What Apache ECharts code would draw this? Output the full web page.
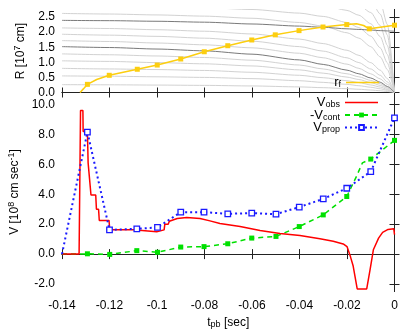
<!DOCTYPE html>
<html><head><meta charset="utf-8">
<script src="https://cdn.jsdelivr.net/npm/echarts@6/dist/echarts.min.js"></script>
<style>html,body{margin:0;padding:0;background:#fff}#c{width:415px;height:332px}</style>
</head><body><div id="c"></div>
<script>
// ---- tick labels ----
const xTicks = [-0.14, -0.12, -0.10, -0.08, -0.06, -0.04, -0.02, 0];
const rTicks = [0, 0.5, 1.0, 1.5, 2.0, 2.5];
const vTicks = [-2, 0, 2, 4, 6, 8, 10];

// ---- gray shell trajectories (top panel) ----
const shellT = [-0.14, -0.12, -0.10, -0.08, -0.06, -0.04, -0.03, -0.02, -0.015, -0.01, -0.006, -0.003, 0];
const shellsLight = [
  [0.26, 0.255, 0.246, 0.236, 0.217, 0.185, 0.16, 0.127, 0.107, 0.082, 0.058, 0.034, 0],
  [0.55, 0.54, 0.52, 0.50, 0.46, 0.39, 0.335, 0.27, 0.225, 0.174, 0.123, 0.072, 0],
  [0.80, 0.78, 0.76, 0.73, 0.67, 0.57, 0.49, 0.39, 0.33, 0.25, 0.18, 0.10, 0],
  [1.05, 1.03, 0.99, 0.95, 0.88, 0.75, 0.64, 0.51, 0.43, 0.33, 0.235, 0.14, 0],
  [1.28, 1.25, 1.21, 1.16, 1.07, 0.91, 0.78, 0.62, 0.52, 0.40, 0.29, 0.17, 0],
  [1.72, 1.69, 1.64, 1.58, 1.48, 1.30, 1.15, 0.94, 0.80, 0.62, 0.45, 0.27, 0],
  [1.93, 1.90, 1.86, 1.80, 1.70, 1.52, 1.37, 1.15, 0.99, 0.78, 0.57, 0.35, 0],
  [2.14, 2.12, 2.08, 2.03, 1.94, 1.77, 1.62, 1.40, 1.23, 0.99, 0.74, 0.46, 0],
  [2.62, 2.60, 2.57, 2.53, 2.46, 2.32, 2.20, 1.98, 1.80, 1.52, 1.18, 0.76, 0],
  [2.90, 2.88, 2.85, 2.81, 2.75, 2.63, 2.52, 2.32, 2.15, 1.87, 1.48, 0.98, 0],
  [3.30, 3.28, 3.25, 3.20, 3.13, 3.00, 2.90, 2.72, 2.56, 2.28, 1.85, 1.26, 0],
  [3.90, 3.85, 3.80, 3.70, 3.60, 3.40, 3.25, 3.05, 2.90, 2.65, 2.22, 1.56, 0],
  [4.80, 4.70, 4.60, 4.40, 4.20, 3.90, 3.70, 3.50, 3.30, 3.05, 2.60, 1.90, 0],
  [6.00, 5.80, 5.60, 5.30, 5.00, 4.60, 4.30, 4.00, 3.80, 3.50, 3.00, 2.25, 0]
];
const shellsDark = [
  [2.39, 2.38, 2.36, 2.33, 2.27, 2.20, 2.16, 2.11, 2.09, 2.07, 2.05, 2.04, 2.03],
  [1.52, 1.49, 1.44, 1.38, 1.27, 1.08, 0.93, 0.74, 0.62, 0.48, 0.34, 0.20, 0]
];

// ---- shock radius r_f (top panel) ----
const rfT = [-0.1324, -0.1310, -0.1293, -0.1254, -0.1201, -0.1083, -0.0999, -0.0900, -0.0801, -0.0702, -0.0601, -0.0502, -0.0402, -0.0301, -0.0201, -0.0160, -0.0130, -0.0106, 0];
const rfR = [0.00, 0.12, 0.27, 0.43, 0.57, 0.77, 0.91, 1.11, 1.35, 1.55, 1.74, 1.91, 2.05, 2.17, 2.25, 2.28, 2.22, 2.11, 2.23];
const rfMark = [0, 0, 1, 0, 1, 1, 1, 1, 1, 1, 1, 1, 1, 1, 1, 0, 0, 1, 1];

// ---- velocities (bottom panel) ----
const obsT = [-0.14, -0.1328, -0.1322, -0.1312, -0.1311, -0.1293, -0.1290, -0.1282, -0.1278, -0.1258, -0.1255, -0.1246, -0.1243, -0.1202, -0.1199, -0.1100, -0.1095, -0.1001, -0.0997, -0.0970, -0.0967, -0.0953, -0.0948, -0.0915, -0.0875, -0.0819, -0.0777, -0.0735, -0.0650, -0.0566, -0.0482, -0.0398, -0.0314, -0.0258, -0.0216, -0.0200, -0.0185, -0.0174, -0.0157, -0.0117, -0.0103, -0.0089, -0.0067, -0.0050, -0.0027, -0.0003, 0];
const obsV = [0, 0, 9.6, 9.6, 8.2, 8.2, 6.1, 6.1, 3.95, 3.95, 3.0, 3.0, 2.25, 2.25, 1.62, 1.62, 1.50, 1.50, 1.62, 1.62, 2.0, 2.0, 2.2, 2.38, 2.45, 2.38, 2.22, 2.05, 1.85, 1.58, 1.37, 1.24, 1.03, 0.86, 0.68, 0.5, -0.2, -0.8, -2.33, -2.33, -1.05, 0.29, 1.07, 1.45, 1.65, 1.7, 1.3];

const contT = [-0.14, -0.1328, -0.1293, -0.1199, -0.1085, -0.0998, -0.0900, -0.0802, -0.0702, -0.0601, -0.0499, -0.0401, -0.0300, -0.0201, -0.0160, -0.0135, -0.0100, 0];
const contV = [0, 0, 0.02, -0.02, 0.23, 0.12, 0.47, 0.50, 0.69, 1.07, 1.18, 1.84, 2.62, 3.85, 5.2, 6.1, 6.35, 7.6];
const contMark = [0, 0, 1, 1, 1, 1, 1, 1, 1, 1, 1, 1, 1, 1, 0, 0, 1, 1];

const propT = [-0.14, -0.1293, -0.1200, -0.1085, -0.0998, -0.0900, -0.0802, -0.0702, -0.0601, -0.0499, -0.0401, -0.0300, -0.0201, -0.0100, 0];
const propV = [0, 8.15, 1.62, 1.69, 1.78, 2.80, 2.80, 2.69, 2.74, 2.67, 3.14, 3.69, 4.40, 5.51, 9.1];
const propMark = [0, 1, 1, 1, 1, 1, 1, 1, 1, 1, 1, 1, 1, 1, 1];

// ---- build ----
const FONT = 'Liberation Sans, Arial, sans-serif';
function pts(T, Y, M) {
  return T.map((t, i) => M ? { value: [t, Y[i]], symbol: M[i] ? 'rect' : 'none' } : [t, Y[i]]);
}
const fmtX = v => Math.abs(v) < 1e-9 ? '0' : String(parseFloat(v.toFixed(2)));
const axLine = { show: true, lineStyle: { color: '#222', width: 1 } };
function xAx(grid, pos, labels) {
  return {
    type: 'value', gridIndex: grid, position: pos, min: -0.14, max: 0,
    axisLine: axLine,
    axisTick: { show: true, inside: true, length: 5, customValues: xTicks, lineStyle: { color: '#222' } },
    axisLabel: labels ? { show: true, customValues: xTicks, formatter: fmtX, fontFamily: FONT, fontSize: 12, color: '#000', margin: 8 } : { show: false },
    splitLine: { show: false },
    name: labels ? '{a|t}{b|pb}{a| [sec]}' : '',
    nameLocation: 'middle', nameGap: 24,
    nameTextStyle: { rich: { a: { fontFamily: FONT, fontSize: 12, color: '#000', lineHeight: 14 }, b: { fontFamily: FONT, fontSize: 9, color: '#000', lineHeight: 6, verticalAlign: 'bottom' } } }
  };
}
function yAx(grid, pos, min, max, ticks, labels, name) {
  return {
    type: 'value', gridIndex: grid, position: pos, min: min, max: max,
    axisLine: axLine,
    axisTick: { show: true, inside: true, length: 5, customValues: ticks, lineStyle: { color: '#222' } },
    axisLabel: labels ? { show: true, customValues: ticks, formatter: v => v.toFixed(1), fontFamily: FONT, fontSize: 12, color: '#000', margin: 7 } : { show: false },
    splitLine: { show: false },
    name: name || '', nameLocation: 'middle', nameRotate: 90, nameGap: 33,
    nameTextStyle: { rich: { a: { fontFamily: FONT, fontSize: 12, color: '#000', lineHeight: 16 }, s: { fontFamily: FONT, fontSize: 9, color: '#000', lineHeight: 8, verticalAlign: 'top' } } }
  };
}

const series = [];
shellsLight.forEach(c => series.push({ type: 'line', xAxisIndex: 0, yAxisIndex: 0, data: pts(shellT, c), symbol: 'none', smooth: 0.25, smoothMonotone: 'x', silent: true, lineStyle: { color: '#d2d2d2', width: 1 }, z: 1 }));
shellsDark.forEach(c => series.push({ type: 'line', xAxisIndex: 0, yAxisIndex: 0, data: pts(shellT, c), symbol: 'none', smooth: 0.25, smoothMonotone: 'x', silent: true, lineStyle: { color: '#7a7a7a', width: 1 }, z: 2 }));
series.push({ name: 'r_f', type: 'line', xAxisIndex: 0, yAxisIndex: 0, data: pts(rfT, rfR, rfMark), symbol: 'none', showSymbol: true, symbolSize: 5, lineStyle: { color: '#fcce10', width: 1.5 }, itemStyle: { color: '#fcce10' }, z: 5 });
series.push({ name: 'V_obs', type: 'line', xAxisIndex: 1, yAxisIndex: 2, data: pts(obsT, obsV), symbol: 'none', lineStyle: { color: '#ff0000', width: 1.5 }, itemStyle: { color: '#ff0000' }, z: 5 });
series.push({ name: '-V_cont', type: 'line', xAxisIndex: 1, yAxisIndex: 2, data: pts(contT, contV, contMark), symbol: 'rect', showSymbol: true, symbolSize: 5, lineStyle: { color: '#00e000', width: 1.5, type: [5, 4] }, itemStyle: { color: '#00e000' }, z: 4 });
series.push({ name: 'V_prop', type: 'line', xAxisIndex: 1, yAxisIndex: 2, data: pts(propT, propV, propMark), symbol: 'rect', showSymbol: true, symbolSize: 5.5, lineStyle: { color: '#1a1aff', width: 2, type: [2, 3] }, itemStyle: { color: '#ffffff', borderColor: '#1a1aff', borderWidth: 1.3 }, z: 6 });

const legRich = {
  a: { fontFamily: FONT, fontSize: 13, color: '#000', lineHeight: 14 },
  b: { fontFamily: FONT, fontSize: 9, color: '#000', lineHeight: 7, verticalAlign: 'bottom' }
};
const legNames = { 'r_f': '{a|r}{b|f}', 'V_obs': '{a|V}{b|obs}', '-V_cont': '{a|-V}{b|cont}', 'V_prop': '{a|V}{b|prop}' };
const lineIcon = 'path://M0,0H33V1.6H0Z';

const option = {
  animation: false,
  backgroundColor: '#fff',
  grid: [
    { left: 62, right: 20.5, top: 9.5, height: 83, outerBoundsMode: 'none', containLabel: false },
    { left: 62, right: 20.5, top: 92.5, bottom: 40.5, outerBoundsMode: 'none', containLabel: false }
  ],
  xAxis: [xAx(0, 'bottom', false), xAx(1, 'bottom', true), xAx(0, 'top', false), xAx(1, 'top', false)],
  yAxis: [
    yAx(0, 'left', 0, 2.75, rTicks, true, '{a|R [10}{s|7}{a| cm]}'),
    yAx(0, 'right', 0, 2.75, rTicks, false),
    yAx(1, 'left', -2.5, 10.8, vTicks, true, '{a|V [10}{s|8}{a| cm sec}{s|-1}{a|]}'),
    yAx(1, 'right', -2.5, 10.8, vTicks, false)
  ],
  legend: [
    { data: [{ name: 'r_f', icon: lineIcon }], right: 36, top: 76, padding: 0, orient: 'vertical', align: 'right', itemWidth: 33, itemHeight: 6, itemGap: 0, formatter: n => legNames[n], textStyle: { rich: legRich }, selectedMode: false },
    { data: [{ name: 'V_obs', icon: lineIcon }, '-V_cont', 'V_prop'], right: 36, top: 96, padding: 0, orient: 'vertical', align: 'right', itemWidth: 33, itemHeight: 6, itemGap: -1, formatter: n => legNames[n], textStyle: { rich: legRich }, selectedMode: false }
  ],
  series: series
};
const chart = echarts.init(document.getElementById('c'), null, { renderer: 'canvas' });
chart.setOption(option);
</script></body></html>
